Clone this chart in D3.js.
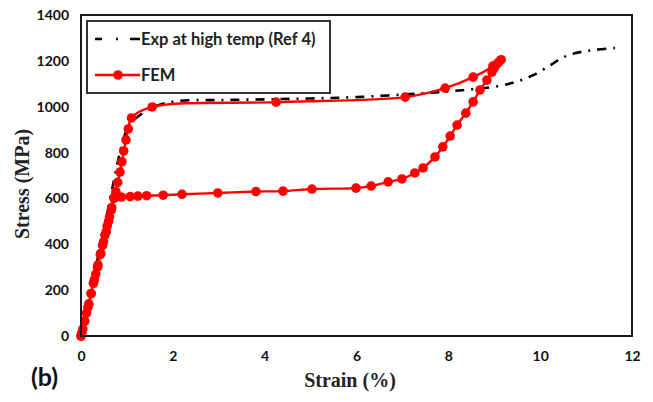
<!DOCTYPE html>
<html>
<head>
<meta charset="utf-8">
<script src="https://cdn.jsdelivr.net/npm/d3@7"></script>
<style>
  body { margin: 0; background: #fff; }
  .tick text { font-family: Lato, "Liberation Sans", sans-serif; font-weight: bold; font-size: 14px; fill: #111; }
</style>
</head>
<body>
<script type="text/javascript">
    const Width = 653;
    const Height = 402;

    // tick labels
    const xTicks = [0, 2, 4, 6, 8, 10, 12];
    const yTicks = [0, 200, 400, 600, 800, 1000, 1200, 1400];

    // Exp at high temp (Ref 4) - dash dot
    const expStrain = [0, 0.5, 0.9, 1.05, 1.25, 1.45, 1.7, 2.1, 3, 4, 5, 6, 7.4, 8.3, 9.1, 9.5, 9.85, 10.2, 10.5, 10.8, 11.15, 11.63];
    const expStress = [0, 465, 840, 920, 958, 985, 1008, 1025, 1029, 1032, 1036, 1042, 1058, 1072, 1090, 1110, 1138, 1178, 1215, 1235, 1247, 1256];

    // FEM - loading then unloading
    const femStrain = [0, 0.04, 0.08, 0.12, 0.17, 0.22, 0.27, 0.32, 0.37, 0.42, 0.47, 0.52, 0.57, 0.62, 0.67, 0.72,
        0.76, 0.80, 0.85, 0.89, 0.93, 0.98, 1.03, 1.10, 1.55, 4.25, 7.06, 7.93, 8.54, 8.97, 9.15,
        9.10, 9.05, 9.00, 8.95, 8.84, 8.69, 8.54, 8.38, 8.19, 8.04, 7.88, 7.71, 7.45, 7.27, 6.99, 6.69, 6.32, 5.99,
        5.03, 4.40, 3.81, 2.98, 2.20, 1.79, 1.43, 1.24, 1.07, 0.88, 0.72,
        0.66, 0.60, 0.55, 0.49, 0.43, 0.36, 0.29, 0.22, 0.15, 0.08, 0.02, 0];
    const femStress = [0, 30, 65, 100, 140, 185, 230, 270, 310, 355, 395, 440, 480, 520, 560, 600,
        630, 670, 715, 760, 807, 855, 903, 951, 999, 1020, 1042, 1081, 1129, 1177, 1205,
        1195, 1185, 1168, 1151, 1116, 1073, 1021, 972, 920, 872, 825, 781, 733, 711, 685, 672, 654, 645,
        641, 632, 630, 624, 618, 614, 612, 610, 608, 606, 604,
        550, 500, 455, 410, 360, 300, 245, 185, 125, 65, 15, 0];

    const margin = {left: 81, right: 21, top: 15, bottom: 66};

    const svg = d3.select("body")
     .append("svg")
     .attr("width", Width)
     .attr("height", Height);

    const x = d3.scaleLinear().domain([0, 12]).range([margin.left, Width - margin.right]);
    const y = d3.scaleLinear().domain([0, 1400]).range([Height - margin.bottom, margin.top]);

    // axes
    const xAxis = svg.append("g")
     .attr("transform", "translate(0," + y(0) + ")")
     .call(d3.axisBottom(x).tickValues(xTicks).tickFormat(d3.format("d")).tickSize(0).tickPadding(15));
    xAxis.select(".domain").remove();

    const yAxis = svg.append("g")
     .attr("transform", "translate(" + x(0) + ",0)")
     .call(d3.axisLeft(y).tickValues(yTicks).tickFormat(d3.format("d")).tickSize(0).tickPadding(12));
    yAxis.select(".domain").remove();

    // lines
    const expData = expStrain.map((d, i) => [d, expStress[i]]);
    const femData = femStrain.map((d, i) => [d, femStress[i]]);

    const line = d3.line()
     .x(d => x(d[0]))
     .y(d => y(d[1]))
     .curve(d3.curveCatmullRom.alpha(0.5));

    svg.append("path")
     .datum(expData)
     .attr("d", line)
     .attr("fill", "none")
     .attr("stroke", "#000")
     .attr("stroke-width", 2.6)
     .attr("stroke-dasharray", "9,7,2,7");

    svg.append("path")
     .datum(femData)
     .attr("d", line)
     .attr("fill", "none")
     .attr("stroke", "#ff0000")
     .attr("stroke-width", 2.4);

    svg.selectAll("circle.fem")
     .data(femData)
     .enter()
     .append("circle")
     .attr("class", "fem")
     .attr("cx", d => x(d[0]))
     .attr("cy", d => y(d[1]))
     .attr("r", 4.8)
     .attr("fill", "#ff0000");

    // plot frame
    svg.append("rect")
     .attr("x", x(0))
     .attr("y", y(1400))
     .attr("width", x(12) - x(0))
     .attr("height", y(0) - y(1400))
     .attr("fill", "none")
     .attr("stroke", "#1a1a1a")
     .attr("stroke-width", 2);

    // legend
    const lg = svg.append("g");
    lg.append("rect")
     .attr("x", 87).attr("y", 21)
     .attr("width", 243).attr("height", 72)
     .attr("fill", "#fff")
     .attr("stroke", "#333")
     .attr("stroke-width", 2);
    lg.append("line")
     .attr("x1", 95).attr("x2", 140).attr("y1", 39).attr("y2", 39)
     .attr("stroke", "#000").attr("stroke-width", 2.6)
     .attr("stroke-dasharray", "7,14,2,12,10");
    lg.append("line")
     .attr("x1", 95).attr("x2", 140).attr("y1", 75).attr("y2", 75)
     .attr("stroke", "#ff0000").attr("stroke-width", 2.4);
    lg.append("circle")
     .attr("cx", 118).attr("cy", 75).attr("r", 4.8).attr("fill", "#ff0000");
    lg.append("text")
     .attr("x", 141).attr("y", 45)
     .attr("font-family", "Lato, sans-serif").attr("font-weight", "bold").attr("font-size", 16.5)
     .attr("fill", "#222")
     .text("Exp at high temp (Ref 4)");
    lg.append("text")
     .attr("x", 141).attr("y", 81)
     .attr("font-family", "Lato, sans-serif").attr("font-weight", "bold").attr("font-size", 16.5)
     .attr("fill", "#222")
     .text("FEM");

    // axis titles
    svg.append("text")
     .attr("x", 350).attr("y", 387)
     .attr("text-anchor", "middle")
     .attr("font-family", "Liberation Serif, serif").attr("font-weight", "bold").attr("font-size", 20)
     .attr("fill", "#222")
     .text("Strain (%)");

    svg.append("text")
     .attr("transform", "translate(29,184) rotate(-90)")
     .attr("text-anchor", "middle")
     .attr("font-family", "Liberation Serif, serif").attr("font-weight", "bold").attr("font-size", 20)
     .attr("fill", "#222")
     .text("Stress (MPa)");

    svg.append("text")
     .attr("x", 31).attr("y", 386)
     .attr("font-family", "Lato, sans-serif").attr("font-weight", "bold").attr("font-size", 25)
     .attr("fill", "#111")
     .text("(b)");
</script>
</body>
</html>
